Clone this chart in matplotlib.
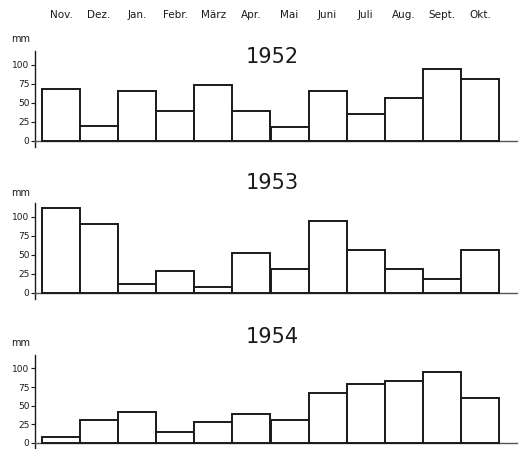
import numpy as np
import matplotlib.pyplot as plt

months = ['Nov.', 'Dez.', 'Jan.', 'Febr.', 'März', 'Apr.', 'Mai', 'Juni', 'Juli', 'Aug.', 'Sept.', 'Okt.']
years = ['1952', '1953', '1954']
rain_1952 = [68, 20, 65, 39, 74, 39, 19, 65, 35, 56, 95, 81]
rain_1953 = [111, 90, 12, 29, 8, 52, 32, 94, 56, 31, 18, 56]
rain_1954 = [8, 31, 42, 15, 28, 39, 31, 67, 79, 83, 95, 61]
yticks = [0, 25, 50, 75, 100]

W, H = 522, 449
fig = plt.figure(figsize=(W / 100, H / 100), dpi=100)
plt.rcParams['font.family'] = 'DejaVu Sans'

# panel layout in pixels: (baseline y, top of axis y, title y, "mm" y)
panels = [(141, 51, 57, 39), (293, 203, 183, 193), (443, 355, 337, 343)]
ymin, ymax = -8, 118
x0, x1 = 35, 517
bar_l, bar_r = 42, 499
step = (bar_r - bar_l) / 12.0
xlo = -0.5 - (bar_l - x0) / step
xhi = 11.5 + (x1 - bar_r) / step

x = np.arange(len(months))
for (base, top, ty, my), year, vals in zip(panels, years, [rain_1952, rain_1953, rain_1954]):
    scale = (base - top) / ymax
    ax_bot = base + (-ymin) * scale
    ax = fig.add_axes([x0 / W, 1 - ax_bot / H, (x1 - x0) / W, (ax_bot - top) / H])
    ax.bar(x, vals, width=1.0, color='white', edgecolor='#1a1a1a', linewidth=1.4, zorder=3)
    ax.set_xlim(xlo, xhi)
    ax.set_ylim(ymin, ymax)
    ax.spines['top'].set_visible(False)
    ax.spines['right'].set_visible(False)
    ax.spines['bottom'].set_position(('data', 0))
    ax.spines['bottom'].set_color('#555555')
    ax.spines['bottom'].set_linewidth(1.0)
    ax.spines['left'].set_color('#1a1a1a')
    ax.spines['left'].set_linewidth(1.0)
    ax.set_xticks([])
    ax.set_yticks(yticks)
    ax.tick_params(axis='y', length=3, width=0.8, pad=1, labelsize=6.5, colors='#1a1a1a')
    ax.patch.set_alpha(0)
    fig.text(272 / W, 1 - ty / H, year, ha='center', va='center', fontsize=15, color='#1a1a1a')
    fig.text(11 / W, 1 - my / H, 'mm', ha='left', va='center', fontsize=7, color='#1a1a1a')

# month labels across the top
for i, m in enumerate(months):
    cx = bar_l + (i + 0.5) * step
    fig.text(cx / W, 1 - 15 / H, m, ha='center', va='center', fontsize=7.5, color='#1a1a1a')

fig.savefig('out.png', dpi=100, facecolor='white')
